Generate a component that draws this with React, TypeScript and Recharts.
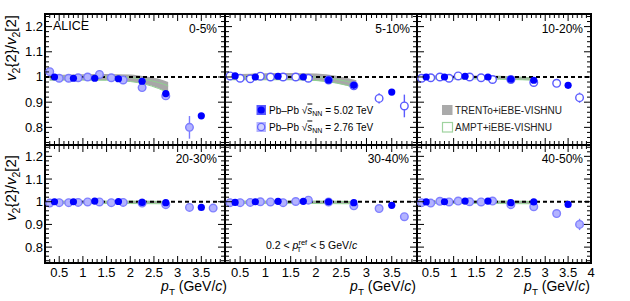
import React from 'react';
import { ComposedChart, XAxis, YAxis, Scatter, Area, ReferenceLine, ReferenceArea, ErrorBar } from 'recharts';

const FONT = '"Liberation Sans", Arial, Helvetica, sans-serif';

const centralities = ['0-5%', '5-10%', '10-20%', '20-30%', '30-40%', '40-50%'];
const ptFilled = [0.4, 0.8, 1.25, 1.75, 2.25, 2.75, 3.5];
const ptOpen = [0.3, 0.5, 0.7, 0.9, 1.1, 1.35, 1.6, 1.85, 2.25, 2.75, 3.25, 3.75];

// Pb-Pb 5.02 TeV
const filled0005 = [1.0, 0.995, 0.995, 0.993, 0.983, 0.934, 0.846];
const filled0510 = [1.004, 1.0, 1.003, 1.0, 0.988, 0.967, 0.94];
const filled1020 = [1.0, 1.0, 1.003, 1.0, 0.991, 0.987, 0.967];
const filled2030 = [1.0, 1.0, 1.003, 1.001, 0.997, 0.996, 0.975];
const filled3040 = [0.997, 1.0, 1.002, 1.002, 1.0, 0.996, 0.984];
const filled4050 = [0.999, 1.0, 1.003, 1.003, 0.996, 0.999, 0.988];
const filledErr = [0.002, 0.002, 0.002, 0.002, 0.003, 0.004, 0.006];

// Pb-Pb 2.76 TeV
const open0005 = [1.021, 0.995, 0.995, 0.997, 1.0, 1.01, 0.997, 0.988, 0.958, 0.925, 0.8, null];
const open0510 = [1.004, 0.995, 0.993, 1.003, 1.0, 1.0, 1.0, 0.995, 0.988, 0.965, 0.915, 0.885];
const open1020 = [0.995, 0.997, 1.0, 0.995, 1.004, 1.0, 0.997, 0.99, 0.99, 0.978, 0.975, 0.918];
const open2030 = [0.994, 0.996, 0.996, 0.997, 0.999, 0.999, 0.996, 0.997, 0.994, 0.987, 0.975, 0.972];
const open3040 = [0.996, 0.996, 0.997, 1.0, 0.999, 0.996, 1.001, 1.007, 0.999, 0.982, 0.97, 0.934];
const open4050 = [0.996, 0.994, 1.002, 0.999, 1.003, 1.0, 0.999, 1.003, 0.987, 0.978, 0.948, 0.9];
const openErr0005 = [0.004, 0.003, 0.003, 0.003, 0.003, 0.003, 0.004, 0.005, 0.007, 0.015, 0.045, 0];
const openErr0510 = [0.003, 0.003, 0.003, 0.003, 0.003, 0.003, 0.003, 0.004, 0.005, 0.008, 0.02, 0.045];
const openErr1020 = [0.003, 0.003, 0.003, 0.003, 0.003, 0.003, 0.003, 0.004, 0.005, 0.005, 0.008, 0.02];
const openErr2030 = [0.003, 0.003, 0.003, 0.003, 0.003, 0.003, 0.003, 0.003, 0.004, 0.004, 0.006, 0.015];
const openErr3040 = [0.003, 0.003, 0.003, 0.003, 0.003, 0.003, 0.003, 0.003, 0.004, 0.005, 0.007, 0.015];
const openErr4050 = [0.003, 0.003, 0.003, 0.003, 0.003, 0.003, 0.003, 0.003, 0.004, 0.006, 0.01, 0.025];

// model bands (TRENTo+iEBE-VISHNU, AMPT+iEBE-VISHNU)
const bandX1 = [0.3, 0.6, 1.0, 1.5, 2.0, 2.3, 2.6, 2.8];
const trentoLo1 = [0.986, 0.987, 0.987, 0.987, 0.982, 0.972, 0.955, 0.935];
const trentoHi1 = [1.006, 1.009, 1.011, 1.012, 1.01, 1.003, 0.993, 0.98];
const amptLo1 = [0.988, 0.988, 0.988, 0.987, 0.982, 0.972, 0.954, 0.937];
const amptHi1 = [0.998, 1.0, 1.001, 1.001, 0.998, 0.99, 0.978, 0.965];

const bandX2 = [0.3, 0.7, 1.0, 1.5, 2.0, 2.4, 2.8];
const trentoLo2 = [0.988, 0.988, 0.988, 0.988, 0.985, 0.975, 0.955];
const trentoHi2 = [1.01, 1.013, 1.015, 1.016, 1.014, 1.005, 0.987];
const amptLo2 = [0.989, 0.989, 0.989, 0.989, 0.986, 0.976, 0.957];
const amptHi2 = [0.999, 1.0, 1.001, 1.001, 0.999, 0.991, 0.973];

const bandX3 = [0.3, 1.0, 1.5, 2.0, 2.5, 2.75];
const trentoLo3 = [0.993, 0.993, 0.993, 0.992, 0.989, 0.987];
const trentoHi3 = [1.005, 1.006, 1.006, 1.005, 1.001, 0.999];
const amptLo3 = [0.992, 0.992, 0.992, 0.991, 0.989, 0.987];
const amptHi3 = [1.0, 1.001, 1.001, 1.0, 0.997, 0.995];

const bandX4 = [0.3, 1.0, 2.0, 2.75];
const trentoLo4 = [0.993, 0.993, 0.993, 0.992];
const trentoHi4 = [1.004, 1.004, 1.004, 1.003];
const amptLo4 = [0.992, 0.992, 0.992, 0.991];
const amptHi4 = [1.002, 1.002, 1.002, 1.001];

const xLabelsShort = [0.5, 1, 1.5, 2, 2.5, 3, 3.5];
const xLabelsLong = [0.5, 1, 1.5, 2, 2.5, 3, 3.5, 4];
const yLabels = [0.8, 0.9, 1, 1.1, 1.2];

const X_MIN = 0.2, X_MAX = 4.0, Y_MIN = 0.73, Y_MAX = 1.25;

const xTicks: number[] = [];
for (let i = 0; i <= 38; i++) xTicks.push(Number((0.2 + i * 0.1).toFixed(2)));
const yTicks: number[] = [];
for (let i = 0; i <= 25; i++) yTicks.push(Number((0.74 + i * 0.02).toFixed(2)));

const near = (a: number, b: number) => Math.abs(a - b) < 1e-6;

function makeBand(xs: number[], tlo: number[], thi: number[], alo: number[], ahi: number[]) {
  return xs.map((x, i) => ({ x, trento: [tlo[i], thi[i]], ampt: [alo[i], ahi[i]] }));
}

const ML = 45, MT = 14, MB = 40, MR = 6;

type PanelProps = {
  left: number; top: number; w: number; h: number;
  band: any[]; filled: number[]; open: (number | null)[]; openErr: number[];
  openFill: string; openStroke: string;
  showY: boolean; showX: boolean; xLabels: number[];
};

function Panel(p: PanelProps) {
  const plotTop = MT, plotBottom = MT + p.h, plotLeft = ML, plotRight = ML + p.w;
  const filledData = ptFilled.map((x, i) => ({ x, y: p.filled[i], e: filledErr[i] }));
  const openData = ptOpen
    .map((x, i) => ({ x, y: p.open[i], e: p.openErr[i] }))
    .filter((d) => d.y !== null);

  const xTick = (t: any) => {
    const v = t.payload.value;
    const major = near(v * 2, Math.round(v * 2));
    const len = major ? 7 : 4;
    const x = t.x;
    const lab = p.showX && p.xLabels.some((l) => near(l, v));
    return (
      <g>
        <line x1={x} x2={x} y1={plotBottom} y2={plotBottom - len} stroke="#000" strokeWidth={1} />
        <line x1={x} x2={x} y1={plotTop} y2={plotTop + len} stroke="#000" strokeWidth={1} />
        {lab && (
          <text x={x} y={plotBottom + 13.5} textAnchor="middle" fontSize={13} fontFamily={FONT} fill="#000">
            {String(v)}
          </text>
        )}
      </g>
    );
  };
  const yTick = (t: any) => {
    const v = t.payload.value;
    const major = near(v * 10, Math.round(v * 10));
    const len = major ? 7 : 4;
    const y = t.y;
    const lab = p.showY && yLabels.some((l) => near(l, v));
    return (
      <g>
        <line x1={plotLeft} x2={plotLeft + len} y1={y} y2={y} stroke="#000" strokeWidth={1} />
        <line x1={plotRight} x2={plotRight - len} y1={y} y2={y} stroke="#000" strokeWidth={1} />
        {lab && (
          <text x={plotLeft - 2} y={y + 4.5} textAnchor="end" fontSize={13} fontFamily={FONT} fill="#000">
            {String(v)}
          </text>
        )}
      </g>
    );
  };

  return (
    <div style={{ position: 'absolute', left: p.left - ML, top: p.top - MT }}>
      <ComposedChart
        width={ML + p.w + MR}
        height={MT + p.h + MB}
        data={p.band}
        margin={{ top: MT, right: MR, bottom: 0, left: 0 }}
      >
        <XAxis
          dataKey="x" type="number" domain={[X_MIN, X_MAX]} allowDataOverflow
          ticks={xTicks} interval={0} height={MB} axisLine={false} tickLine={false} tick={xTick}
        />
        <YAxis
          type="number" domain={[Y_MIN, Y_MAX]} allowDataOverflow
          ticks={yTicks} interval={0} width={ML} axisLine={false} tickLine={false} tick={yTick}
        />
        <Area dataKey="trento" type="monotone" fill="#a2a2a2" fillOpacity={0.95} stroke="none" isAnimationActive={false} />
        <Area dataKey="ampt" type="monotone" fill="none" fillOpacity={0} stroke="#8fd08f" strokeWidth={1} isAnimationActive={false} />
        <ReferenceLine y={1} stroke="#000" strokeWidth={2} strokeDasharray="4 3" />
        <Scatter
          data={openData} dataKey="y" isAnimationActive={false}
          shape={(s: any) => (
            <circle cx={s.cx} cy={s.cy} r={3.8} fill={p.openFill} stroke={p.openStroke} strokeWidth={1.4} />
          )}
        >
          <ErrorBar dataKey="e" direction="y" width={0} stroke={p.openStroke} strokeWidth={1.4} />
        </Scatter>
        <Scatter
          data={filledData} dataKey="y" isAnimationActive={false}
          shape={(s: any) => <circle cx={s.cx} cy={s.cy} r={3.6} fill="#0000ff" />}
        >
          <ErrorBar dataKey="e" direction="y" width={0} stroke="#0000ff" strokeWidth={1.4} />
        </Scatter>
        <ReferenceArea
          x1={X_MIN} x2={X_MAX} y1={Y_MIN} y2={Y_MAX}
          fill="none" fillOpacity={0} stroke="#000" strokeWidth={2} ifOverflow="visible"
        />
      </ComposedChart>
    </div>
  );
}

const cols = [
  { left: 45, w: 180 },
  { left: 225, w: 192 },
  { left: 417, w: 174 },
];
const rows = [
  { top: 14, h: 131 },
  { top: 145, h: 118 },
];

const PT = (props: { x: number; y: number; size: number; anchor?: string }) => (
  <text x={props.x} y={props.y} fontSize={props.size} fontFamily={FONT} textAnchor={props.anchor || 'start'} fill="#000">
    <tspan fontStyle="italic">p</tspan>
    <tspan fontSize={props.size * 0.7} dy={props.size * 0.3}>T</tspan>
    <tspan dy={-props.size * 0.3}>{' (GeV/'}</tspan>
    <tspan fontStyle="italic">c</tspan>
    <tspan>)</tspan>
  </text>
);

const YTitle = (props: { x: number; y: number }) => (
  <text
    transform={`translate(${props.x},${props.y}) rotate(-90)`}
    textAnchor="end" fontSize={15} fontFamily={FONT} fill="#000"
  >
    <tspan fontStyle="italic">v</tspan>
    <tspan fontSize={10.5} dy={4}>2</tspan>
    <tspan dy={-4}>{'{2}/'}</tspan>
    <tspan fontStyle="italic">v</tspan>
    <tspan fontSize={10.5} dy={4}>2</tspan>
    <tspan dy={-4}>[2]</tspan>
  </text>
);

const SqrtS = (props: { x: number; y: number; rest: string }) => (
  <text x={props.x} y={props.y} fontSize={10} fontFamily={FONT} fill="#000">
    <tspan>{'Pb\u2013Pb '}</tspan>
    <tspan>{'\u221A'}</tspan>
    <tspan fontStyle="italic" textDecoration="overline">s</tspan>
    <tspan fontSize={7} dy={2.5}>NN</tspan>
    <tspan dy={-2.5}>{props.rest}</tspan>
  </text>
);

export default function App() {
  const panels = [
    { c: 0, r: 0, band: makeBand(bandX1, trentoLo1, trentoHi1, amptLo1, amptHi1), filled: filled0005, open: open0005, err: openErr0005, of: '#b3b3ff', os: '#7b7bff' },
    { c: 1, r: 0, band: makeBand(bandX2, trentoLo2, trentoHi2, amptLo2, amptHi2), filled: filled0510, open: open0510, err: openErr0510, of: '#ffffff', os: '#5c5cff' },
    { c: 2, r: 0, band: makeBand(bandX3, trentoLo3, trentoHi3, amptLo3, amptHi3), filled: filled1020, open: open1020, err: openErr1020, of: '#ffffff', os: '#5c5cff' },
    { c: 0, r: 1, band: makeBand(bandX4, trentoLo4, trentoHi4, amptLo4, amptHi4), filled: filled2030, open: open2030, err: openErr2030, of: '#b3b3ff', os: '#8080ff' },
    { c: 1, r: 1, band: makeBand(bandX4, trentoLo4, trentoHi4, amptLo4, amptHi4), filled: filled3040, open: open3040, err: openErr3040, of: '#b3b3ff', os: '#8080ff' },
    { c: 2, r: 1, band: makeBand(bandX4, trentoLo4, trentoHi4, amptLo4, amptHi4), filled: filled4050, open: open4050, err: openErr4050, of: '#b3b3ff', os: '#8080ff' },
  ];
  const labelPos = [
    { x: 217, y: 33 }, { x: 410, y: 33 }, { x: 583, y: 33 },
    { x: 217, y: 163 }, { x: 409, y: 163 }, { x: 583, y: 163 },
  ];
  return (
    <div style={{ position: 'absolute', left: 0, top: 0, width: 630, height: 301, background: '#fff', overflow: 'hidden' }}>
      {panels.map((pn, i) => (
        <Panel
          key={i}
          left={cols[pn.c].left} top={rows[pn.r].top} w={cols[pn.c].w} h={rows[pn.r].h}
          band={pn.band} filled={pn.filled} open={pn.open} openErr={pn.err}
          openFill={pn.of} openStroke={pn.os}
          showY={pn.c === 0} showX={pn.r === 1}
          xLabels={pn.c === 2 ? xLabelsLong : xLabelsShort}
        />
      ))}
      <svg width={630} height={301} style={{ position: 'absolute', left: 0, top: 0, pointerEvents: 'none' }}>
        <YTitle x={16} y={15} />
        <YTitle x={16} y={155} />
        <PT x={227} y={291} size={14} anchor="end" />
        <PT x={416} y={291} size={14} anchor="end" />
        <PT x={590} y={291} size={14} anchor="end" />
        <text x={53} y={30} fontSize={12.5} fontFamily={FONT} fill="#000">ALICE</text>
        {centralities.map((c, i) => (
          <text key={c} x={labelPos[i].x} y={labelPos[i].y} fontSize={12} fontFamily={FONT} textAnchor="end" fill="#000">
            {c}
          </text>
        ))}
        {/* data legend */}
        <rect x={256.5} y={105} width={9.5} height={10} fill="#5a5aff" />
        <circle cx={261.2} cy={110} r={3.6} fill="#0000ff" />
        <SqrtS x={269} y={113.5} rest=" = 5.02 TeV" />
        <rect x={256.5} y={122} width={9.5} height={10} fill="#b3b3ff" />
        <circle cx={261.2} cy={127} r={3.6} fill="#d0d0ff" stroke="#6666ff" strokeWidth={1.3} />
        <SqrtS x={269} y={130.5} rest=" = 2.76 TeV" />
        {/* model legend */}
        <rect x={442} y={105} width={10.5} height={10} fill="#aaaaaa" />
        <text x={455} y={113.5} fontSize={10} fontFamily={FONT} fill="#222">TRENTo+iEBE-VISHNU</text>
        <rect x={442.5} y={122.5} width={10} height={9.5} fill="none" stroke="#9fd39f" strokeWidth={1.2} />
        <text x={455} y={130.5} fontSize={10} fontFamily={FONT} fill="#222">AMPT+iEBE-VISHNU</text>
        {/* reference range */}
        <text x={266} y={249} fontSize={10.5} fontFamily={FONT} fill="#000">
          <tspan>{'0.2 < '}</tspan>
          <tspan fontStyle="italic">p</tspan>
          <tspan fontSize={7.5} dy={-4.5}>ref</tspan>
          <tspan fontSize={7.5} dx={-10.5} dy={7.5}>T</tspan>
          <tspan dx={6} dy={-3}>{' < 5 GeV/'}</tspan>
          <tspan fontStyle="italic">c</tspan>
        </text>
      </svg>
    </div>
  );
}
